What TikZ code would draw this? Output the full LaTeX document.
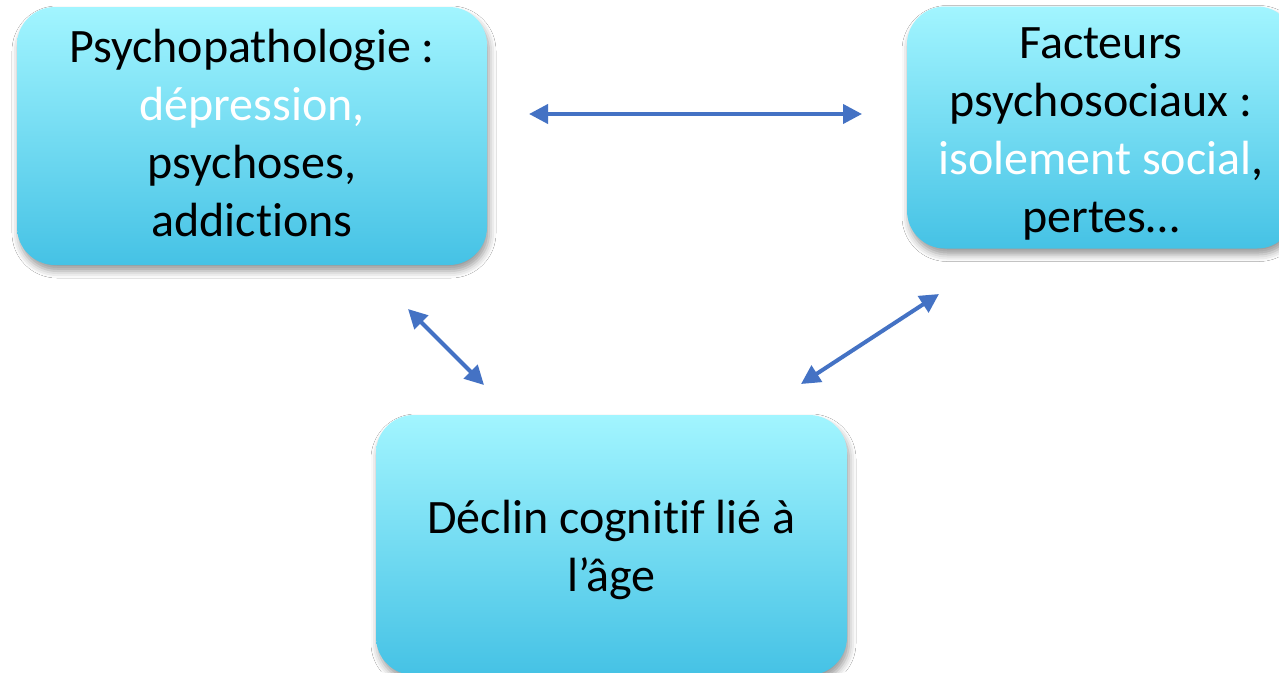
\documentclass[tikz,border=0pt]{standalone}
\usepackage{fontspec}
\setmainfont[Ligatures=NoCommon]{Carlito}
\usetikzlibrary{arrows.meta,shadows.blur}
\definecolor{boxtop}{HTML}{A2F5FF}
\definecolor{boxbot}{HTML}{45C2E5}
\definecolor{arrowblue}{HTML}{4472C4}
\newcommand\firstln[1]{\rule{0pt}{#1pt}}
\newcommand\lastln{\rule[-16pt]{0pt}{16pt}}
\tikzset{
  cbox/.style={rounded corners=38pt, top color=boxtop, bottom color=boxbot,
    draw=none, align=center, inner sep=0pt,
    font=\fontsize{48}{58}\selectfont,
    blur shadow={shadow xshift=2pt, shadow yshift=-6pt, shadow blur radius=7pt, shadow opacity=40}},
  link/.style={arrowblue, line width=4pt,
    {Triangle[length=19pt,width=19pt]}-{Triangle[length=19pt,width=19pt]}}
}
\begin{document}
\begin{tikzpicture}[x=1pt,y=-1pt]
\useasboundingbox (0,0) rectangle (1279,672);
\clip (0,0) rectangle (1279,672);
\fill[white] (0,0) rectangle (1279,672);
\node[cbox, minimum width=470pt, minimum height=258pt] (psy) at (252,136)
  {\firstln{42}Psychopathologie :\\ \textcolor{white}{dépression,}\\ psychoses,\\ addictions\lastln};
\node[cbox, minimum width=388pt, minimum height=241pt] (fac) at (1101,127.5)
  {\firstln{52}Facteurs\\ psychosociaux :\\ \textcolor{white}{isolement social},\\ pertes…\lastln};
\node[cbox, minimum width=471pt, minimum height=260pt] (dec) at (611.5,545)
  {\firstln{50}Déclin cognitif lié à\\ l’âge\lastln};
\coordinate (h1) at (529,114);
\coordinate (h2) at (862,114);
\coordinate (l1) at (408,309);
\coordinate (l2) at (484,385);
\coordinate (r1) at (939,294);
\coordinate (r2) at (801,384);
\draw[link] (h1) -- (h2);
\draw[link] (l1) -- (l2);
\draw[link] (r1) -- (r2);
\end{tikzpicture}
\end{document}
